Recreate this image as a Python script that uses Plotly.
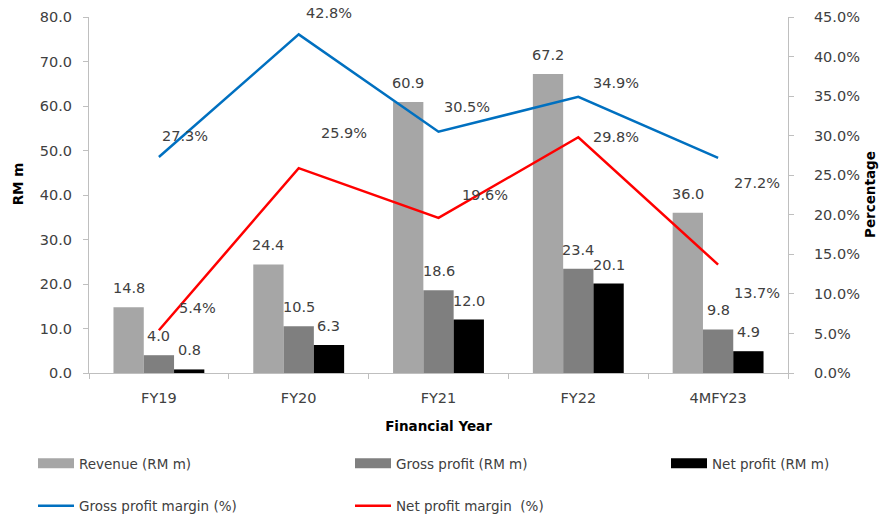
import plotly.graph_objects as go

# ---- data -------------------------------------------------------------
years = ["FY19", "FY20", "FY21", "FY22", "4MFY23"]
revenue = [14.8, 24.4, 60.9, 67.2, 36.0]
gross_profit = [4.0, 10.5, 18.6, 23.4, 9.8]
net_profit = [0.8, 6.3, 12.0, 20.1, 4.9]
gross_margin = [27.3, 42.8, 30.5, 34.9, 27.2]
net_margin = [5.4, 25.9, 19.6, 29.8, 13.7]

left_ticks = [0, 10, 20, 30, 40, 50, 60, 70, 80]
right_ticks = [0, 5, 10, 15, 20, 25, 30, 35, 40, 45]

# ---- styling ----------------------------------------------------------
FONT = "DejaVu Sans"
TXT = "#404040"
AXIS = "#bfbfbf"
C_REV, C_GP, C_NP = "#a6a6a6", "#7f7f7f", "#000000"
C_GPM, C_NPM = "#0070c0", "#ff0000"
BARGAP = 0.35

# pixel nudges for the margin labels (x, y)
gpm_shift = [(26, 21), (30, 21), (28, 25), (38, 14), (39, -25)]
npm_shift = [(39, 22), (45, 35), (46, 23), (38, 0), (39, -28)]

fig = go.Figure()

bar_series = [
    ("Revenue (RM m)", revenue, C_REV),
    ("Gross profit (RM m)", gross_profit, C_GP),
    ("Net profit (RM m)", net_profit, C_NP),
]
for name, vals, col in bar_series:
    fig.add_trace(go.Bar(x=years, y=vals, name=name, marker_color=col,
                         marker_line_width=0, showlegend=False, yaxis="y"))

fig.add_trace(go.Scatter(x=years, y=gross_margin, mode="lines",
                         line=dict(color=C_GPM, width=2.5),
                         showlegend=False, yaxis="y2"))
fig.add_trace(go.Scatter(x=years, y=net_margin, mode="lines",
                         line=dict(color=C_NPM, width=2.5),
                         showlegend=False, yaxis="y2"))

# legend entries (wide swatches) arranged in three columns
legend_entries = [
    ("Revenue (RM m)", C_REV, 11, "legend", "g1"),
    ("Gross profit margin (%)", C_GPM, 2.5, "legend", "g2"),
    ("Gross profit (RM m)", C_GP, 11, "legend2", "g3"),
    ("Net profit margin  (%)", C_NPM, 2.5, "legend2", "g4"),
    ("Net profit (RM m)", C_NP, 11, "legend3", "g5"),
]
for name, col, w, leg, grp in legend_entries:
    fig.add_trace(go.Scatter(x=[years[0]], y=[None], mode="lines", name=name,
                             line=dict(color=col, width=w), legend=leg,
                             legendgroup=grp, yaxis="y", hoverinfo="skip"))

# value labels above the bars
bar_w = (1 - BARGAP) / len(bar_series)
annotations = []
for j, (_, vals, _) in enumerate(bar_series):
    off = (j - 1) * bar_w
    for i, v in enumerate(vals):
        annotations.append(dict(x=i + off, y=v, xref="x", yref="y",
                                text=f"{v:.1f}", showarrow=False,
                                yanchor="middle", yshift=19,
                                font=dict(family=FONT, size=14.5, color=TXT)))

# percentage labels for the two margin lines
for vals, shifts in ((gross_margin, gpm_shift), (net_margin, npm_shift)):
    for i, (v, (dx, dy)) in enumerate(zip(vals, shifts)):
        annotations.append(dict(x=i, y=v, xref="x", yref="y2",
                                text=f"{v:.1f}%", showarrow=False,
                                xshift=dx, yshift=dy,
                                font=dict(family=FONT, size=14.5, color=TXT)))

# vertical axis titles
title_font = dict(family=FONT, size=13.5, color="#000000")
annotations.append(dict(text="<b>RM m</b>", xref="paper", yref="paper",
                        x=0, y=0.53, xanchor="center", yanchor="middle",
                        xshift=-71, textangle=-90, showarrow=False,
                        font=title_font))
annotations.append(dict(text="<b>Percentage</b>", xref="paper", yref="paper",
                        x=1, y=0.5, xanchor="center", yanchor="middle",
                        xshift=82, textangle=-90, showarrow=False,
                        font=title_font))

leg_common = dict(orientation="v", xref="container", yref="container",
                  xanchor="left", yanchor="top", itemwidth=36,
                  traceorder="grouped", tracegroupgap=22,
                  font=dict(family=FONT, size=13.5, color=TXT),
                  bgcolor="rgba(0,0,0,0)")

fig.update_layout(
    width=890, height=518,
    margin=dict(l=89, r=102, t=17, b=145, autoexpand=False),
    paper_bgcolor="white", plot_bgcolor="white",
    font=dict(family=FONT, size=14.5, color=TXT),
    barmode="group", bargap=BARGAP, bargroupgap=0,
    xaxis=dict(type="category", categoryorder="array", categoryarray=years,
               range=[-0.5, len(years) - 0.5],
               showgrid=False, zeroline=False,
               showline=True, linecolor=AXIS, linewidth=1,
               ticks="outside", ticklen=5, tickcolor=AXIS,
               tickson="boundaries", ticklabelstandoff=12, tickangle=0,
               tickfont=dict(family=FONT, size=14.5, color=TXT),
               title=dict(text="<b>Financial Year</b>", standoff=16,
                          font=title_font)),
    yaxis=dict(range=[0, 80], tickvals=left_ticks,
               ticktext=[f"{v:.1f}" for v in left_ticks],
               showgrid=False, zeroline=False,
               showline=True, linecolor=AXIS, linewidth=1,
               ticks="outside", ticklen=5, tickcolor=AXIS,
               ticklabelstandoff=8,
               tickfont=dict(family=FONT, size=14.5, color=TXT)),
    yaxis2=dict(range=[0, 45], tickvals=right_ticks,
                ticktext=[f"{v:.1f}%" for v in right_ticks],
                overlaying="y", side="right",
                showgrid=False, zeroline=False,
                showline=True, linecolor=AXIS, linewidth=1,
                ticks="outside", ticklen=5, tickcolor=AXIS,
                ticklabelstandoff=17,
                tickfont=dict(family=FONT, size=14.5, color=TXT)),
    legend=dict(leg_common, x=33 / 890, y=1 - 448 / 518),
    legend2=dict(leg_common, x=350 / 890, y=1 - 448 / 518),
    legend3=dict(leg_common, x=666 / 890, y=1 - 448 / 518),
    annotations=annotations,
)

fig.write_html("out.html")
